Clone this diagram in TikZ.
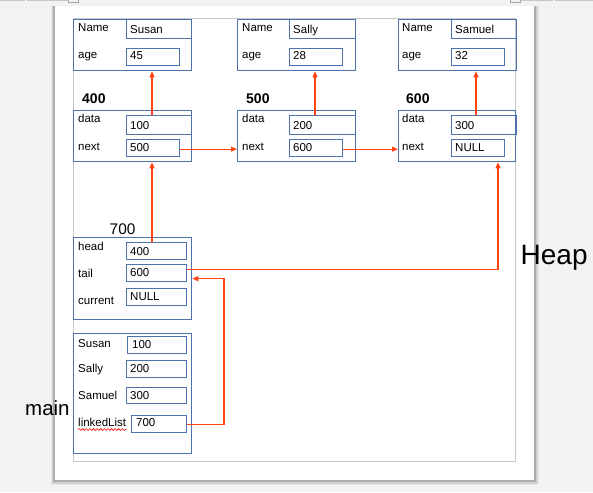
\documentclass[tikz,border=0pt]{standalone}
\usepackage{fontspec}
\setmainfont{Liberation Sans}
\usetikzlibrary{arrows.meta,decorations.pathmorphing}
\definecolor{bgray}{RGB}{243,242,240}
\definecolor{boxblue}{RGB}{78,114,172}
\definecolor{arrowred}{RGB}{255,68,18}
\definecolor{margray}{RGB}{200,200,200}
\newcommand{\labfont}{\fontsize{11.5}{13}\selectfont}
\newcommand{\mybox}[5]{\node[cellbox, minimum width=#4pt, minimum height=#5pt] (#1) at (#2,#3) {};}
\tikzset{
  cellbox/.style={draw=boxblue, line width=1.3pt, anchor=north west, inner sep=0pt, fill=none},
  lbl/.style={anchor=base west, inner sep=0pt, font=\labfont, text=black},
  addr/.style={anchor=base west, inner sep=0pt, font=\fontsize{14}{16}\selectfont\bfseries},
  arr/.style={draw=arrowred, line width=1.2pt, -{Triangle[length=6pt,width=5pt]}},
}
\begin{document}
\begin{tikzpicture}[x=1pt,y=-1pt]
\useasboundingbox (0,0) rectangle (593,492);
\fill[bgray] (0,0) rectangle (593,492);
% ruler remnants
\draw[black!22, line width=1pt] (0,0.5) -- (24.5,0.5) (26.5,0.5) -- (68,0.5) (520.5,0.5) -- (553,0.5) (554.5,0.5) -- (593,0.5);
\draw[black!35, line width=0.6pt] (68,-1) rectangle (78,2) (510.5,-1) rectangle (520.5,2);
% page shadow and page
\fill[black!4] (49.5,6) rectangle (539.5,485.5);
\fill[black!9] (50.5,6) rectangle (538.5,484.5);
\fill[black!18] (51.5,6) rectangle (537.5,483.5);
\fill[black!32] (53,6) rectangle (536,482);
\fill[white] (55,6) rectangle (534,480);
% margin
\draw[margray, line width=1pt] (73,19) rectangle (515,461);

% Person objects
\mybox{susan}{73}{19}{118}{51}
\mybox{susanN}{126}{19}{65}{19}
\mybox{susanA}{126}{48}{53}{17}
\mybox{sally}{237}{19}{118}{51}
\mybox{sallyN}{289}{19}{66}{19}
\mybox{sallyA}{289}{48}{53}{17}
\mybox{samuel}{398}{19}{118}{51}
\mybox{samuelN}{451}{19}{65}{19}
\mybox{samuelA}{451}{48}{53}{17}

\node[lbl] (t1) at (78,32) {Name};
\node[lbl] (t2) at (130,33.3) {Susan};
\node[lbl] (t3) at (78,58.5) {age};
\node[lbl] (t4) at (130,60) {45};
\node[lbl] (t5) at (242,32) {Name};
\node[lbl] (t6) at (293,33.3) {Sally};
\node[lbl] (t7) at (242,58.5) {age};
\node[lbl] (t8) at (293,60) {28};
\node[lbl] (t9) at (402,32) {Name};
\node[lbl] (t10) at (455,33.3) {Samuel};
\node[lbl] (t11) at (402,58.5) {age};
\node[lbl] (t12) at (455,60) {32};

% list nodes
\node[addr] (a400) at (82,103.5) {400};
\node[addr] (a500) at (246,103.5) {500};
\node[addr] (a600) at (406,103.5) {600};
\mybox{n400}{73}{110}{118}{51}
\mybox{d400}{126}{115}{65}{19}
\mybox{x400}{126}{139}{53}{17}
\mybox{n500}{237}{110}{118}{51}
\mybox{d500}{289}{115}{66}{19}
\mybox{x500}{289}{139}{53}{17}
\mybox{n600}{398}{110}{117}{51}
\mybox{d600}{451}{115}{65}{19}
\mybox{x600}{451}{139}{53}{17}

\node[lbl] (u1) at (78,122) {data};
\node[lbl] (u2) at (130,129.5) {100};
\node[lbl] (u3) at (78,150) {next};
\node[lbl] (u4) at (130,151) {500};
\node[lbl] (u5) at (242,122) {data};
\node[lbl] (u6) at (293,129.5) {200};
\node[lbl] (u7) at (242,150) {next};
\node[lbl] (u8) at (293,151) {600};
\node[lbl] (u9) at (402,122) {data};
\node[lbl] (u10) at (455,129.5) {300};
\node[lbl] (u11) at (402,150) {next};
\node[lbl] (u12) at (455,151) {NULL};

% linked list object
\node[anchor=base west, inner sep=0pt, font=\fontsize{15.4}{17}\selectfont] (a700) at (109.5,234) {700};
\mybox{n700}{73}{237}{118}{82}
\mybox{hv}{126}{242}{60}{17}
\mybox{tv}{126}{264}{60}{17}
\mybox{cv}{126}{288}{60}{17}
\node[lbl] (v1) at (78,250.5) {head};
\node[lbl] (v2) at (130,255) {400};
\node[lbl] (v3) at (78,277.5) {tail};
\node[lbl] (v4) at (130,276) {600};
\node[lbl] (v5) at (78,304) {current};
\node[lbl] (v6) at (130,300) {NULL};

% main frame
\mybox{mainf}{73}{333}{118}{120}
\mybox{m1}{127}{336}{59}{17}
\mybox{m2}{126}{360}{60}{17}
\mybox{m3}{126}{387}{60}{16}
\mybox{lv}{131}{415}{55}{17}
\node[lbl] (w1) at (78,347) {Susan};
\node[lbl] (w2) at (132,348) {100};
\node[lbl] (w3) at (78,372.5) {Sally};
\node[lbl] (w4) at (130,372) {200};
\node[lbl] (w5) at (78,399) {Samuel};
\node[lbl] (w6) at (130,399) {300};
\node[lbl] (w7) at (78,426.5) {linkedList};
\node[lbl] (w8) at (136,426.5) {700};
\draw[red, line width=0.6pt, decorate, decoration={snake, amplitude=0.9pt, segment length=3.6pt}] (w7.base west) ++(0,3) -- ([yshift=-3pt]w7.base east);

\node[anchor=base west, inner sep=0pt, font=\fontsize{20.5}{23}\selectfont] (mainlbl) at (25,415) {main};
\node[anchor=base west, inner sep=0pt, font=\fontsize{28}{30}\selectfont] (heaplbl) at (520.5,264) {Heap};

% arrows
\draw[arr] ([xshift=26pt]d400.north west) -- ([xshift=26pt]d400.north west |- susan.south);
\draw[arr] ([xshift=26pt]d500.north west) -- ([xshift=26pt]d500.north west |- sally.south);
\draw[arr] ([xshift=25pt]d600.north west) -- ([xshift=25pt]d600.north west |- samuel.south);
\draw[arr] ([yshift=-1pt]x400.east) -- ([yshift=-1pt]x400.east -| n500.west);
\draw[arr] ([yshift=-1pt]x500.east) -- ([yshift=-1pt]x500.east -| n600.west);
\draw[arr] ([xshift=26pt]hv.north west) -- ([xshift=26pt]hv.north west |- n400.south);
\coordinate (tailturn) at (498,0);
\draw[arr] ([yshift=3.5pt]tv.east) -- ([yshift=3.5pt]tv.east -| tailturn) -- (tailturn |- n600.south);
\coordinate (listturn) at (224,0);
\draw[arr] (lv.east) -- (lv.east -| listturn) -- (n700.east -| listturn) -- (n700.east);
\end{tikzpicture}
\end{document}
